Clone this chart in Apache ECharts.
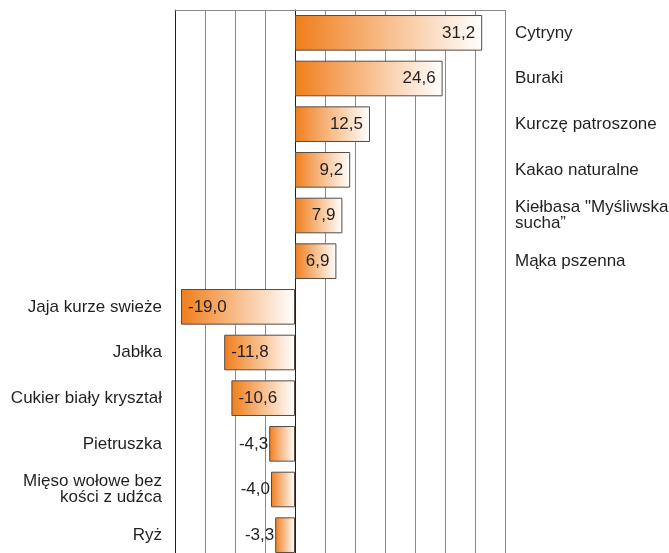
<!DOCTYPE html>
<html>
<head>
<meta charset="utf-8">
<script src="https://cdn.jsdelivr.net/npm/echarts@6/dist/echarts.min.js"></script>
<style>
  html, body { margin: 0; padding: 0; background: #fff; overflow: hidden; }
  #chart { width: 669px; height: 553px; }
</style>
</head>
<body>
<div id="chart"></div>
<script>
// kategorie i wartości
const categories = [
  'Cytryny',
  'Buraki',
  'Kurczę patroszone',
  'Kakao naturalne',
  'Kiełbasa "Myśliwska\nsucha”',
  'Mąka pszenna',
  'Jaja kurze swieże',
  'Jabłka',
  'Cukier biały kryształ',
  'Pietruszka',
  'Mięso wołowe bez\nkości z udźca',
  'Ryż'
]
const values = [31.2, 24.6, 12.5, 9.2, 7.9, 6.9, -19.0, -11.8, -10.6, -4.3, -4.0, -3.3]

const fmt = (v) => v.toFixed(1).replace('.', ',')

const barColor = new echarts.graphic.LinearGradient(0, 0, 1, 0, [
  { offset: 0, color: '#F07E1C' },
  { offset: 1, color: '#FFFFFF' }
])

// etykiety wartości: wewnątrz słupka, przy krótkich ujemnych obok
const seriesData = values.map((v) => {
  let position = v >= 0 ? 'insideRight' : 'insideLeft'
  if (v < 0 && v > -5) position = 'left'
  return {
    value: v,
    label: { position: position, distance: position === 'left' ? 1 : 7 }
  }
})

const chart = echarts.init(document.getElementById('chart'))

const labelStyle = {
  fontFamily: 'Liberation Sans, Arial, sans-serif',
  fontSize: 17,
  color: '#231F20',
  lineHeight: 16
}

chart.setOption({
  animation: false,
  grid: { left: 175, right: 164, top: 10, height: 548, outerBoundsMode: 'none', containLabel: false },
  xAxis: {
    type: 'value',
    position: 'top',
    min: -20,
    max: 35,
    interval: 5,
    axisLine: { show: true, lineStyle: { color: '#8a8a8a', width: 1 } },
    axisTick: { show: false },
    axisLabel: { show: false },
    splitLine: { show: true, lineStyle: { color: '#8a8a8a', width: 1 } }
  },
  yAxis: [
    {
      type: 'category',
      inverse: true,
      position: 'left',
      data: categories,
      axisLine: { show: true, onZero: false, lineStyle: { color: '#231F20' } },
      axisTick: { show: false },
      axisLabel: Object.assign({}, labelStyle, {
        margin: 13,
        align: 'right',
        formatter: (name, i) => (values[i] < 0 ? name : '')
      })
    },
    {
      type: 'category',
      inverse: true,
      position: 'right',
      data: categories,
      axisLine: { show: true, onZero: true, lineStyle: { color: '#231F20' } },
      axisTick: { show: false },
      axisLabel: Object.assign({}, labelStyle, {
        margin: 10,
        align: 'left',
        formatter: (name, i) => (values[i] >= 0 ? name : '')
      })
    }
  ],
  series: [
    {
      type: 'bar',
      yAxisIndex: 0,
      barWidth: '78%',
      data: seriesData,
      itemStyle: {
        color: barColor,
        borderColor: '#5a4a42',
        borderWidth: 1
      },
      label: {
        show: true,
        fontFamily: 'Liberation Sans, Arial, sans-serif',
        fontSize: 17,
        color: '#231F20',
        formatter: (p) => fmt(p.value)
      }
    }
  ]
})
</script>
</body>
</html>
